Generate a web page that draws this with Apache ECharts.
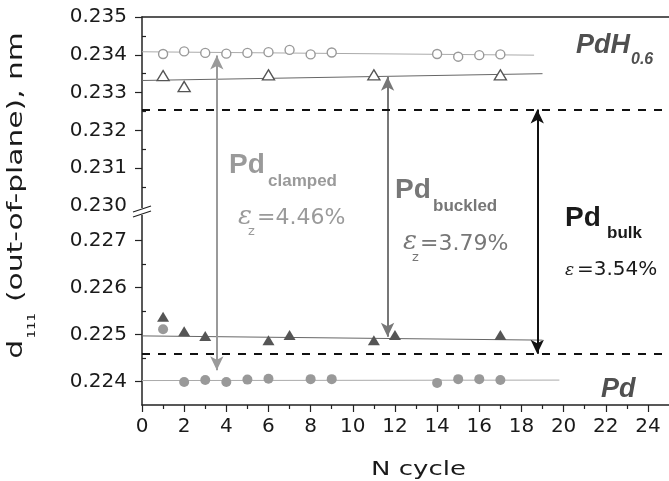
<!DOCTYPE html>
<html>
<head>
<meta charset="utf-8">
<script src="https://cdn.jsdelivr.net/npm/echarts@6/dist/echarts.min.js"></script>
<style>
  html, body {margin: 0; padding: 0; background: #fff;}
  #chart {width: 669px; height: 481px;}
</style>
</head>
<body>
<div id="chart"></div>
<script>
// PdH0.6, open circles + fit
const hydCircleX = [1, 2, 3, 4, 5, 6, 7, 8, 9, 14, 15, 16, 17];
const hydCircleY = [0.23402, 0.23409, 0.23405, 0.23403, 0.23405, 0.23407, 0.23413, 0.23401, 0.23406, 0.23402, 0.23395, 0.23399, 0.23401];
const hydCircleFit = [[0, 0.23408], [18.6, 0.23399]];
// PdH0.6, open triangles + fit
const hydTriX = [1, 2, 6, 11, 17];
const hydTriY = [0.23345, 0.23316, 0.23347, 0.23347, 0.23347];
const hydTriFit = [[0, 0.23332], [19, 0.2335]];
// Pd, filled triangles + fit
const pdTriX = [1, 2, 3, 6, 7, 11, 12, 17];
const pdTriY = [0.22538, 0.22507, 0.22497, 0.22488, 0.22499, 0.22488, 0.22499, 0.22499];
const pdTriFit = [[0, 0.22497], [19, 0.22488]];
// Pd, filled circles + fit
const pdCircleX = [1, 2, 3, 4, 5, 6, 8, 9, 14, 15, 16, 17];
const pdCircleY = [0.22511, 0.22399, 0.22403, 0.22399, 0.22404, 0.22406, 0.22405, 0.22405, 0.22397, 0.22405, 0.22405, 0.22403];
const pdCircleFit = [[0, 0.22402], [19.8, 0.22403]];

// bulk reference levels (dashed)
const bulkLevels = [0.23255, 0.22459];

// arrows: clamped, buckled, bulk
const arrowX = [3.55, 11.65, 18.75];
const arrowTop = [0.23398, 0.23342, 0.23255];
const arrowBottom = [0.22424, 0.22495, 0.22459];
const arrowColor = ['#9a9a9a', '#777', '#111'];

// broken y axis: upper and lower ranges
const xRange = [0, 25];
const upperRange = [0.22984, 0.235];
const lowerRange = [0.2235, 0.227606];
const upperLabels = [0.230, 0.231, 0.232, 0.233, 0.234, 0.235];
const upperTicks = [0.231, 0.232, 0.233, 0.234, 0.235];
const upperMinor = [0.2305, 0.2315, 0.2325, 0.2335, 0.2345];
const lowerTicks = [0.224, 0.225, 0.226, 0.227];
const lowerMinor = [0.2245, 0.2255, 0.2265];
const xTicks = [0, 2, 4, 6, 8, 10, 12, 14, 16, 18, 20, 22, 24];
const xMinor = [1, 3, 5, 7, 9, 11, 13, 15, 17, 19, 21, 23];

const zip = (xs, ys) => xs.map((x, i) => [x, ys[i]]);

const axisColor = '#222';
const tickFont = {fontSize: 20, fontFamily: 'DejaVu Sans', color: '#1a1a1a'};

function yMain(grid, range, ticks, labels) {
  return {
    type: 'value', gridIndex: grid, min: range[0], max: range[1],
    axisLine: {show: true, onZero: false, lineStyle: {color: axisColor, width: 1.5}},
    axisTick: {show: true, customValues: ticks, length: 7, lineStyle: {color: axisColor, width: 1.2}},
    axisLabel: Object.assign({customValues: labels, margin: 15, formatter: v => v.toFixed(3)}, tickFont),
    splitLine: {show: false}
  };
}
function yMinor(grid, range, ticks) {
  return {
    type: 'value', gridIndex: grid, min: range[0], max: range[1],
    axisLine: {show: false},
    axisTick: {show: true, customValues: ticks, length: 4, lineStyle: {color: axisColor, width: 1.2}},
    axisLabel: {show: false},
    splitLine: {show: false}
  };
}

function fitLine(xi, yi, data, color) {
  return {
    type: 'line', xAxisIndex: xi, yAxisIndex: yi, data: data, symbol: 'none',
    lineStyle: {color: color, width: 1}, z: 2, silent: true
  };
}
function points(xi, yi, data, symbol, size, fill, border) {
  return {
    type: 'scatter', xAxisIndex: xi, yAxisIndex: yi, data: data,
    symbol: symbol, symbolSize: size, z: 4, silent: true,
    itemStyle: {color: fill, borderColor: border, borderWidth: border ? 1.4 : 0, opacity: 1}
  };
}
function dashed(level) {
  return {
    silent: true, symbol: 'none', label: {show: false},
    lineStyle: {color: '#111', width: 1.8, type: [8, 8]},
    data: [[{coord: [xRange[0], level]}, {coord: [xRange[1], level]}]]
  };
}
// half of every arrow lives in each grid, meeting at the break
function arrows(from, tips) {
  return {
    silent: true, symbol: ['none', 'arrow'], symbolSize: [10, 14], label: {show: false},
    data: arrowX.map((x, i) => [
      {coord: [x, from], lineStyle: {color: arrowColor[i], width: 2, type: 'solid'}, itemStyle: {color: arrowColor[i]}},
      {coord: [x, tips[i]], itemStyle: {color: arrowColor[i]}}
    ])
  };
}

function txt(x, base, text, font, size, color, extra) {
  return Object.assign({
    type: 'text', x: x, y: base - 0.35 * size, silent: true,
    style: {text: text, font: font.replace('#', size + 'px'), fill: color, align: 'left', verticalAlign: 'middle'}
  }, extra || {});
}
const bi = 'italic bold # "Liberation Sans"';
const b = 'bold # "Liberation Sans"';
const reg = '# "DejaVu Sans"';
const eps = 'italic # "DejaVu Serif"';

let chart = echarts.init(document.getElementById('chart'));
chart.setOption({
  animation: false,
  grid: [
    {left: 142, top: 17, width: 532.5, height: 195},
    {left: 142, top: 212, width: 532.5, height: 193}
  ],
  xAxis: [
    {type: 'value', gridIndex: 0, position: 'top', min: xRange[0], max: xRange[1],
      axisLine: {show: true, onZero: false, lineStyle: {color: axisColor, width: 1.5}},
      axisTick: {show: false}, axisLabel: {show: false}, splitLine: {show: false}},
    {type: 'value', gridIndex: 1, position: 'bottom', min: xRange[0], max: xRange[1],
      axisLine: {show: true, onZero: false, lineStyle: {color: axisColor, width: 1.5}},
      axisTick: {show: true, customValues: xTicks, length: 7, lineStyle: {color: axisColor, width: 1.2}},
      axisLabel: Object.assign({customValues: xTicks, margin: 12}, tickFont),
      splitLine: {show: false}},
    {type: 'value', gridIndex: 1, position: 'bottom', min: xRange[0], max: xRange[1],
      axisLine: {show: false},
      axisTick: {show: true, customValues: xMinor, length: 4, lineStyle: {color: axisColor, width: 1.2}},
      axisLabel: {show: false}, splitLine: {show: false}}
  ],
  yAxis: [
    yMain(0, upperRange, upperTicks, upperLabels),
    yMinor(0, upperRange, upperMinor),
    yMain(1, lowerRange, lowerTicks, lowerTicks),
    yMinor(1, lowerRange, lowerMinor)
  ],
  series: [
    Object.assign(fitLine(0, 0, hydCircleFit, '#aaa'), {markLine: arrows(upperRange[0], arrowTop)}),
    points(0, 0, zip(hydCircleX, hydCircleY), 'circle', 9, '#fff', '#999'),
    Object.assign(fitLine(0, 0, hydTriFit, '#666'), {markLine: dashed(bulkLevels[0])}),
    points(0, 0, zip(hydTriX, hydTriY), 'triangle', [12, 10], '#fff', '#555'),
    Object.assign(fitLine(1, 2, pdTriFit, '#666'), {markLine: dashed(bulkLevels[1])}),
    points(1, 2, zip(pdTriX, pdTriY), 'triangle', [12, 10], '#555'),
    Object.assign(fitLine(1, 2, pdCircleFit, '#aaa'), {markLine: arrows(lowerRange[1], arrowBottom)}),
    points(1, 2, zip(pdCircleX, pdCircleY), 'circle', 10, '#999')
  ],
  graphic: [
    // axis break mark
    {type: 'rect', shape: {x: 139, y: 208, width: 6, height: 7}, style: {fill: '#fff'}, z: 100, silent: true},
    {type: 'line', shape: {x1: 133, y1: 212, x2: 151, y2: 206}, style: {stroke: axisColor, lineWidth: 1.2}, z: 101, silent: true},
    {type: 'line', shape: {x1: 133, y1: 217, x2: 151, y2: 211}, style: {stroke: axisColor, lineWidth: 1.2}, z: 101, silent: true},
    // axis titles
    {type: 'text', x: 5, y: 195.5, rotation: Math.PI / 2, scaleX: 1.35, silent: true,
      style: {
        text: '{m|d}{s|111}{m| (out-of-plane), nm}', align: 'center', verticalAlign: 'top', fill: '#1a1a1a',
        rich: {
          m: {fontSize: 22, fontFamily: 'DejaVu Sans', lineHeight: 26, verticalAlign: 'top', fill: '#1a1a1a'},
          s: {fontSize: 10, fontFamily: 'DejaVu Sans', lineHeight: 8, padding: [22, 1, 0, 1], verticalAlign: 'top', fill: '#1a1a1a'}
        }
      }},
    txt(418.5, 477, 'N cycle', reg, 20, '#1a1a1a', {scaleX: 1.3, style: {text: 'N cycle', font: '20px "DejaVu Sans"', fill: '#1a1a1a', align: 'center', verticalAlign: 'middle'}}),
    // phase labels
    txt(576, 55, 'PdH', bi, 27, '#505050'),
    txt(631, 65.5, '0.6', bi, 16, '#505050'),
    txt(601, 398.5, 'Pd', bi, 27, '#505050'),
    txt(229, 175, 'Pd', b, 28, '#9a9a9a'),
    txt(268, 187, 'clamped', b, 17, '#9a9a9a'),
    txt(238, 226, 'ε', eps, 26, '#9a9a9a'),
    txt(248, 236, 'z', reg, 13, '#9a9a9a'),
    txt(257, 226, '=4.46%', reg, 22, '#9a9a9a'),
    txt(395, 200, 'Pd', b, 28, '#777'),
    txt(433, 212, 'buckled', b, 17, '#777'),
    txt(403, 251, 'ε', eps, 26, '#777'),
    txt(412, 262, 'z', reg, 13, '#777'),
    txt(420, 252, '=3.79%', reg, 22, '#777'),
    txt(565, 228, 'Pd', b, 28, '#1a1a1a'),
    txt(607, 239, 'bulk', b, 17, '#1a1a1a'),
    txt(565, 277, 'ε', eps, 17, '#1a1a1a'),
    txt(577, 277, '=3.54%', reg, 20, '#1a1a1a')
  ]
});
</script>
</body>
</html>
